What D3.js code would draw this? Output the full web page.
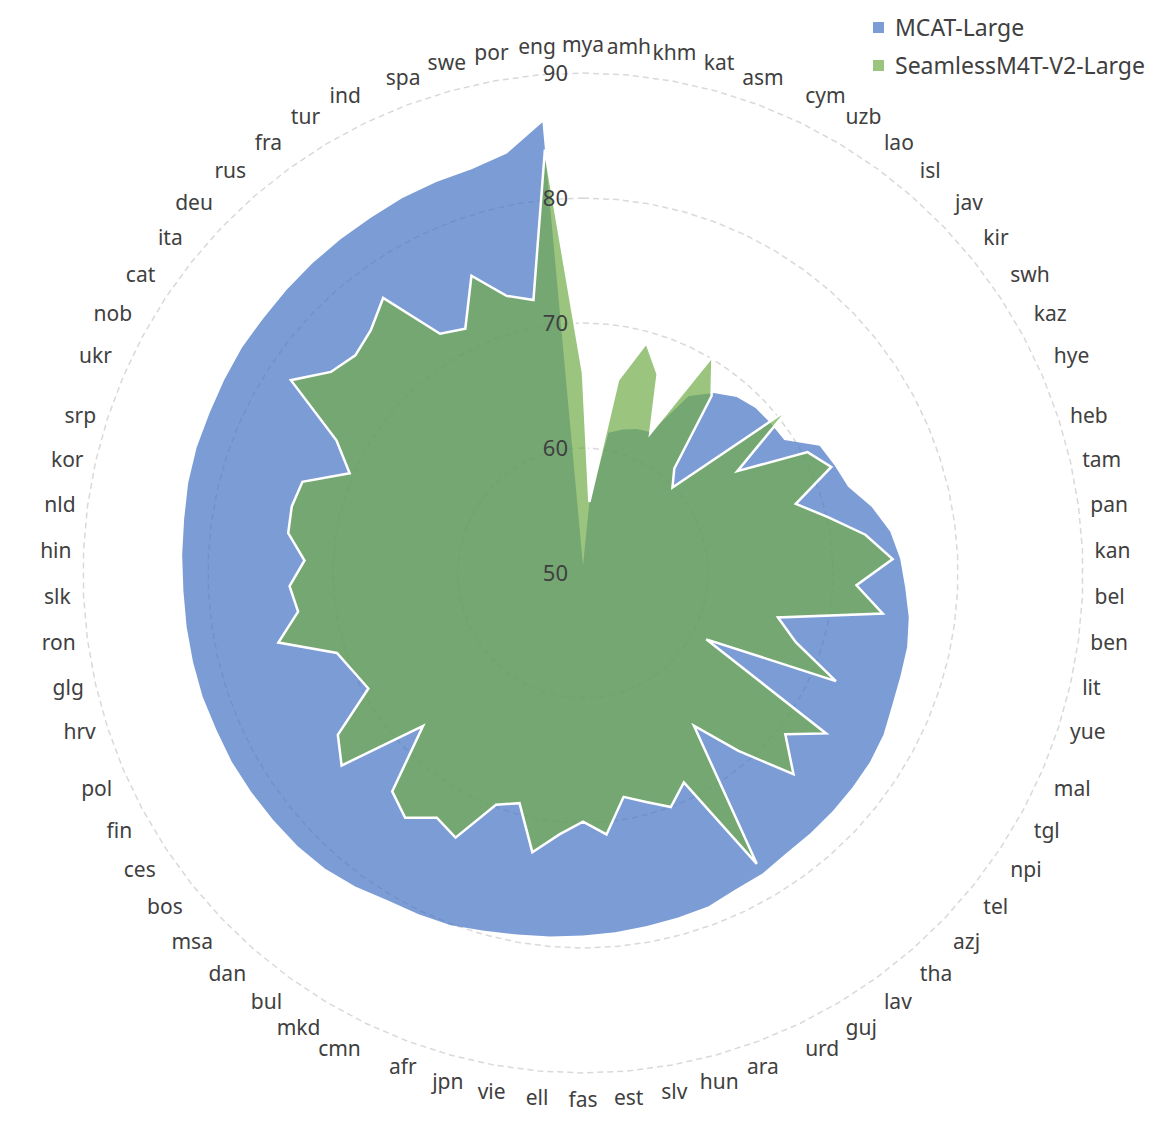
<!DOCTYPE html>
<html>
<head>
<meta charset="utf-8">
<script src="https://cdnjs.cloudflare.com/ajax/libs/d3/7.8.5/d3.min.js"></script>
<style>
  body { margin: 0; background: white; }
  svg text { font-family: "Comic Sans MS", "Noto Sans", sans-serif; fill: #404040; }
</style>
</head>
<body>
<div id="chart"></div>
<script>
// Categories, clockwise from 12 o'clock
const languages = [ "mya", "amh", "khm", "kat", "asm", "cym", "uzb", "lao", "isl", "jav",
    "kir", "swh", "kaz", "hye", "heb", "tam", "pan", "kan", "bel", "ben",
    "lit", "yue", "mal", "tgl", "npi", "tel", "azj", "tha", "lav", "guj",
    "urd", "ara", "hun", "slv", "est", "fas", "ell", "vie", "jpn", "afr",
    "cmn", "mkd", "bul", "dan", "msa", "bos", "ces", "fin", "pol", "hrv",
    "glg", "ron", "slk", "hin", "nld", "kor", "srp", "ukr", "nob", "cat",
    "ita", "deu", "rus", "fra", "tur", "ind", "spa", "swe", "por", "eng" ];

const mcatLarge = [ 50.6, 55.7, 61.4, 61.9, 62.3, 62.5, 66.5, 67.8, 68.7, 69.1,
    69.2, 69.3, 71.5, 71.9, 72.3, 73.7, 74.8, 75.4, 75.8, 76.3,
    76.6, 76.7, 76.9, 77.3, 77.5, 77.55, 77.6, 77.65, 77.7, 78.0,
    78.1, 78.5, 78.6, 78.7, 78.85, 79.0, 79.2, 79.4, 79.7, 80.1,
    80.3, 80.5, 81.0, 81.4, 81.6, 81.7, 81.8, 81.9, 81.9, 82.0,
    82.0, 82.0, 82.0, 82.1, 82.2, 82.4, 82.5, 82.5, 82.6, 82.7,
    82.7, 82.8, 82.9, 83.0, 83.1, 83.3, 83.4, 83.5, 84.1, 86.2 ];

const seamlessLarge = [ 66.0, 55.7, 65.7, 69.1, 67.0, 62.4, 70.2, 67.5, 61.1, 59.9,
    71.0, 64.8, 70.4, 71.6, 67.9, 70.1, 72.8, 74.8, 71.9, 74.2,
    66.0, 67.9, 72.0, 61.2, 73.3, 70.7, 73.3, 68.9, 65.1, 77.1,
    68.6, 70.0, 69.0, 68.2, 71.0, 69.9, 71.0, 72.7, 69.1, 69.8,
    73.5, 72.8, 74.2, 73.2, 67.7, 74.7, 73.5, 69.5, 70.0, 70.7,
    75.0, 73.0, 73.5, 72.3, 73.8, 73.9, 73.6, 70.3, 72.4, 78.0,
    75.8, 75.2, 75.8, 77.2, 72.3, 71.7, 75.4, 73.0, 72.2, 84.0 ];

const radialTicks = [ 50, 60, 70, 80, 90 ];
const seriesNames = [ "MCAT-Large", "SeamlessM4T-V2-Large" ];

const blue = "#4472c4";
const green = "#70ad47";
const gridGray = "#d9d9d9";

const width = 1162, height = 1140;
const cx = 583, cy = 573, outer = 500;

const svg = d3.select( "#chart" ).append( "svg" )
    .attr( "width", width ).attr( "height", height );

const r = d3.scaleLinear().domain( [ 50, 90 ] ).range( [ 0, outer ] );
const angle = d3.scaleLinear().domain( [ 0, languages.length ] ).range( [ 0, 2 * Math.PI ] );

const g = svg.append( "g" ).attr( "transform", "translate(" + cx + "," + cy + ")" );

// Dashed polygon gridlines, one per tick above the centre
const gridLine = d3.lineRadial().curve( d3.curveLinearClosed )
    .angle( (d, i) => angle(i) ).radius( d => d );
g.selectAll( "path.grid" ).data( radialTicks.slice(1) ).enter().append( "path" )
    .attr( "class", "grid" )
    .attr( "d", t => gridLine( languages.map( () => r(t) ) ) )
    .attr( "fill", "none" ).attr( "stroke", gridGray )
    .attr( "stroke-width", 1.5 ).attr( "stroke-dasharray", "6,4" );

// Series areas: MCAT first, Seamless on top with a white outline
const area = d3.lineRadial().curve( d3.curveLinearClosed )
    .angle( (d, i) => angle(i) ).radius( d => r(d) );

g.append( "path" ).attr( "d", area( mcatLarge ) )
    .attr( "fill", blue ).attr( "fill-opacity", 0.7 );

g.append( "path" ).attr( "d", area( seamlessLarge ) )
    .attr( "fill", green ).attr( "fill-opacity", 0.7 )
    .attr( "stroke", "white" ).attr( "stroke-width", 2.5 ).attr( "stroke-linejoin", "miter" );

// Radial tick labels, right of them sits the vertical axis
g.selectAll( "text.tick" ).data( radialTicks ).enter().append( "text" )
    .attr( "class", "tick" )
    .attr( "x", -15 ).attr( "y", t => -r(t) )
    .attr( "dy", "0.35em" ).attr( "text-anchor", "end" )
    .attr( "font-size", 22 )
    .text( t => t );

// Category labels, anchored like Excel does: centred near the poles,
// middle near the sides, at a corner otherwise
const labelR = outer + 12;
const labels = g.selectAll( "text.cat" ).data( languages ).enter().append( "text" )
    .attr( "class", "cat" ).attr( "font-size", 21 )
    .text( d => d );

labels.each( function(d, i) {
    let a = angle(i);
    let s = Math.sin(a), c = Math.cos(a);
    let px = labelR * s, py = -labelR * c;
    let box = this.getBBox();
    let left;
    if (s > 0.39) left = px;
    else if (s < -0.39) left = px - box.width;
    else left = px - box.width / 2;
    let top;
    // the box carries some line gap under the glyphs, so lift the top ones a bit
    if (c > 0.35) top = py - box.height - 3;
    else if (c < -0.35) top = py;
    else top = py - box.height / 2;
    d3.select(this).attr( "x", left - box.x ).attr( "y", top - box.y );
} );

// Legend
const legend = svg.append( "g" ).attr( "transform", "translate(873, 22)" );
const legendColors = [ blue, green ];
legend.selectAll( "rect" ).data( seriesNames ).enter().append( "rect" )
    .attr( "x", 0 ).attr( "y", (d, i) => i * 38 )
    .attr( "width", 11 ).attr( "height", 11 )
    .attr( "fill", (d, i) => legendColors[i] ).attr( "fill-opacity", 0.7 );
legend.selectAll( "text" ).data( seriesNames ).enter().append( "text" )
    .attr( "x", 22 ).attr( "y", (d, i) => i * 38 + 6 )
    .attr( "dy", "0.35em" ).attr( "font-size", 23 )
    .text( d => d );
</script>
</body>
</html>
